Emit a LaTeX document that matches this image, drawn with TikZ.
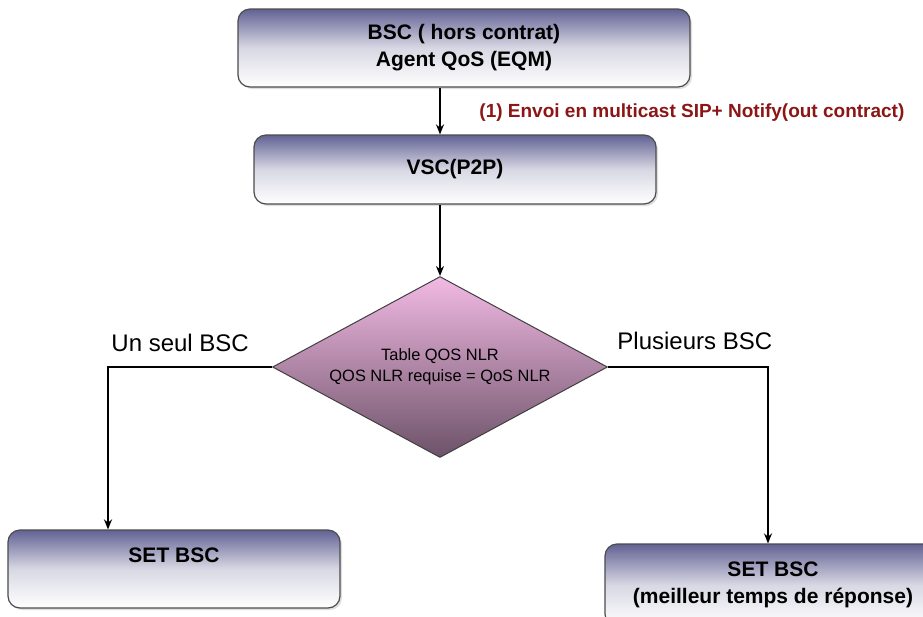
\documentclass[tikz,border=0pt]{standalone}
\usepackage{fontspec}
\setmainfont{Liberation Sans}
\usetikzlibrary{shapes.geometric, shadows, arrows.meta}

\definecolor{boxtop}{RGB}{98,98,148}
\definecolor{diatop}{RGB}{242,186,228}
\definecolor{diabot}{RGB}{108,82,104}
\definecolor{msgred}{RGB}{140,22,22}

\begin{document}
\begin{tikzpicture}[x=0.5pt, y=-0.5pt, thick,
    flowbox/.style={draw=gray!60!black, line width=0.6pt, rounded corners=6pt,
      top color=boxtop, bottom color=white, middle color=boxtop!25,
      drop shadow={opacity=0.25, shadow xshift=1pt, shadow yshift=-1pt},
      align=center, inner sep=0pt, font=\bfseries\fontsize{10.5}{13.5}\selectfont},
    decbox/.style={diamond, draw=gray!50!black, line width=0.5pt,
      top color=diatop, bottom color=diabot, aspect=1.85, inner sep=0pt,
      minimum width=167.5pt, minimum height=90.5pt,
      align=center, font=\fontsize{8.2}{10.5}\selectfont},
    flow/.style={-{Stealth[length=5pt, width=4pt]}, line width=0.9pt},
    branch/.style={font=\fontsize{12}{14}\selectfont}]

  \clip (0,0) rectangle (923,617);

  % -- Boxes --
  \node[flowbox, minimum width=226pt, minimum height=39pt] (bsc) at (464,48)
    {BSC ( hors contrat)\\Agent QoS (EQM)};
  \node[flowbox, minimum width=201pt, minimum height=34.5pt] (vsc) at (455,169.5)
    {VSC(P2P)};
  \node[decbox] (dec) at (440,367) {Table QOS NLR\\QOS NLR requise = QoS NLR};
  \node[flowbox, minimum width=166pt, minimum height=39pt] (single) at (174,569)
    {SET BSC\\~};
  \node[flowbox, minimum width=168pt, minimum height=41pt] (multi) at (773,585)
    {SET BSC\\(meilleur temps de réponse)};

  % -- Messages --
  \draw[flow] (bsc.south -| dec.north) -- (vsc.north -| dec.north);
  \node[anchor=west, text=msgred, font=\bfseries\fontsize{9.5}{11}\selectfont] (sipmsg)
    at (472,113) {(1) Envoi en multicast SIP+ Notify(out contract)};
  \draw[flow] (vsc.south -| dec.north) -- (dec.north);

  % -- Branches --
  \coordinate (lturn) at (108,367);
  \coordinate (rturn) at (768,367);
  \draw[flow] (dec.west) -- (lturn) -- (lturn |- single.north);
  \draw[flow] (dec.east) -- (rturn) -- (rturn |- multi.north);
  \node[branch, anchor=west] (onebsc) at (104,343) {Un seul BSC};
  \node[branch, anchor=west] (manybsc) at (610,341) {Plusieurs BSC};

\end{tikzpicture}
\end{document}
